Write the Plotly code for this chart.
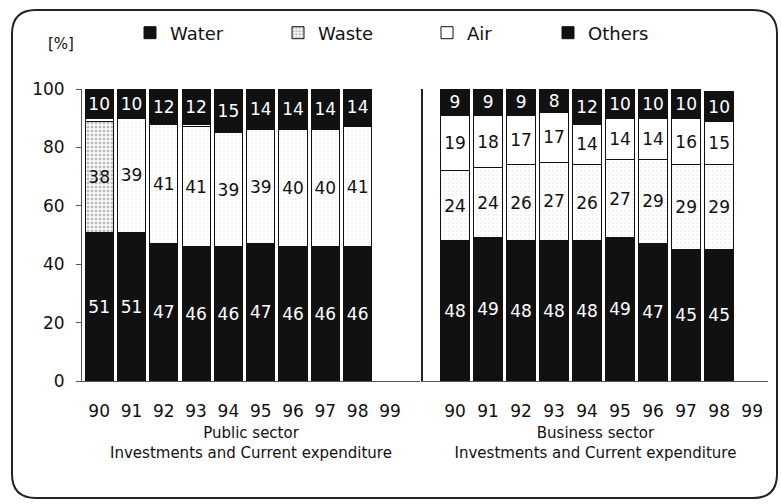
import plotly.graph_objects as go

years = ["90", "91", "92", "93", "94", "95", "96", "97", "98", "99"]

pub_water = [51, 51, 47, 46, 46, 47, 46, 46, 46, None]
pub_waste = [38, 39, 41, 41, 39, 39, 40, 40, 41, None]
pub_air = [1, 0, 0, 1, 0, 0, 0, 0, 0, None]
pub_others = [10, 10, 12, 12, 15, 14, 14, 14, 14, None]

bus_water = [48, 49, 48, 48, 48, 49, 47, 45, 45, None]
bus_waste = [24, 24, 26, 27, 26, 27, 29, 29, 29, None]
bus_air = [19, 18, 17, 17, 14, 14, 14, 16, 15, None]
bus_others = [9, 9, 9, 8, 12, 10, 10, 10, 10, None]

y_ticks = [0, 20, 40, 60, 80, 100]
series_names = ["Water", "Waste", "Air", "Others"]
sector_titles = ["Public sector<br>Investments and Current expenditure",
                 "Business sector<br>Investments and Current expenditure"]

W, H = 781, 504
ML, MR, MT, MB = 82, 13, 89, 123
PW = W - ML - MR
PH = H - MT - MB
FONT = "DejaVu Sans"
INK = "#111111"


def px(x):
    return (x - ML) / PW


def py(y):
    return (H - MB - y) / PH


def labels(vals):
    # tiny slivers carry no printed value in the original
    return [str(v) if (v is not None and v >= 5) else "" for v in vals]


fig = go.Figure()

styles = {
    "Water": dict(color=INK, text="white"),
    "Waste": dict(color="white", text=INK),
    "Air": dict(color="white", text=INK),
    "Others": dict(color=INK, text="white"),
}

legend_ids = {"Water": "legend", "Waste": "legend2", "Air": "legend3", "Others": "legend4"}

for sector, (xa, ya, data, show) in enumerate([
    ("x", "y", [pub_water, pub_waste, pub_air, pub_others], True),
    ("x2", "y2", [bus_water, bus_waste, bus_air, bus_others], False),
]):
    for name, vals in zip(series_names, data):
        st = styles[name]
        marker = dict(color=st["color"], line=dict(color=INK, width=1))
        if name == "Waste":
            if sector == 0:
                sol = [0.45] + [0.08] * 9
                fgc = ["#777777"] + ["#bbbbbb"] * 9
            else:
                sol = [0.1] * 10
                fgc = ["#bbbbbb"] * 10
            marker["pattern"] = dict(shape=".", bgcolor="white", fgcolor=fgc,
                                     solidity=sol, size=4, fillmode="overlay")
        fig.add_trace(go.Bar(
            x=years, y=vals, name=name, xaxis=xa, yaxis=ya,
            marker=marker, text=labels(vals), textposition="inside",
            insidetextanchor="middle", textangle=0,
            textfont=dict(color=st["text"], size=17, family=FONT),
            showlegend=show, legend=legend_ids[name], hoverinfo="x+y+name",
        ))

axis_common = dict(type="category", showgrid=False, zeroline=False,
                   tickfont=dict(family=FONT, size=17, color=INK),
                   showline=True, linecolor="#555555", linewidth=1,
                   ticks="", ticklabelstandoff=15)

fig.update_layout(
    width=W, height=H,
    margin=dict(l=ML, r=MR, t=MT, b=MB, autoexpand=False),
    paper_bgcolor="white", plot_bgcolor="white",
    barmode="stack", bargap=0.13,
    uniformtext=dict(minsize=16, mode="show"),
    font=dict(family=FONT, color=INK),
    xaxis=dict(axis_common, domain=[0, px(420)], range=[-0.53, 9.93], anchor="y",
               title=dict(text=sector_titles[0], font=dict(size=15, family=FONT, color=INK),
                          standoff=7)),
    xaxis2=dict(axis_common, domain=[px(423), 1], range=[-0.97, 9.48], anchor="y2",
                title=dict(text=sector_titles[1], font=dict(size=15, family=FONT, color=INK),
                           standoff=7)),
    yaxis=dict(range=[0, 100], tickvals=y_ticks, showgrid=False, zeroline=False,
               showline=True, linecolor="#555555", linewidth=1, ticks="outside",
               ticklen=5, tickcolor="#555555", ticklabelstandoff=8,
               tickfont=dict(family=FONT, size=17, color=INK), anchor="x"),
    yaxis2=dict(range=[0, 100], showgrid=False, zeroline=False, showticklabels=False,
                showline=True, linecolor="#222222", linewidth=1.5, ticks="",
                anchor="x2"),
)

legend_text_x = {"Water": 170, "Waste": 318, "Air": 467, "Others": 588}
for name, lid in legend_ids.items():
    fig.update_layout({lid: dict(
        x=px(legend_text_x[name] - 40), y=py(33), xanchor="left", yanchor="middle",
        orientation="h", bgcolor="rgba(0,0,0,0)", borderwidth=0,
        font=dict(family=FONT, size=18, color=INK), itemclick=False,
    )})

fig.add_annotation(text="[%]", x=px(46), y=py(33), xref="paper", yref="paper",
                   showarrow=False, font=dict(family=FONT, size=15, color=INK))

# rounded frame around the chart
x0, x1, y0, y1, r = 12, 777, 10, 498, 24
pts = [
    ("M", [(x0 + r, y0)]), ("L", [(x1 - r, y0)]), ("Q", [(x1, y0), (x1, y0 + r)]),
    ("L", [(x1, y1 - r)]), ("Q", [(x1, y1), (x1 - r, y1)]), ("L", [(x0 + r, y1)]),
    ("Q", [(x0, y1), (x0, y1 - r)]), ("L", [(x0, y0 + r)]), ("Q", [(x0, y0), (x0 + r, y0)]),
]
path = " ".join(cmd + " " + " ".join(f"{px(a):.5f},{py(b):.5f}" for a, b in p) for cmd, p in pts) + " Z"
fig.add_shape(type="path", path=path, xref="paper", yref="paper",
              line=dict(color="#222222", width=2), layer="above")

fig.write_html("out.html", config={"displayModeBar": False},
               post_script="document.body.style.margin='0';")
